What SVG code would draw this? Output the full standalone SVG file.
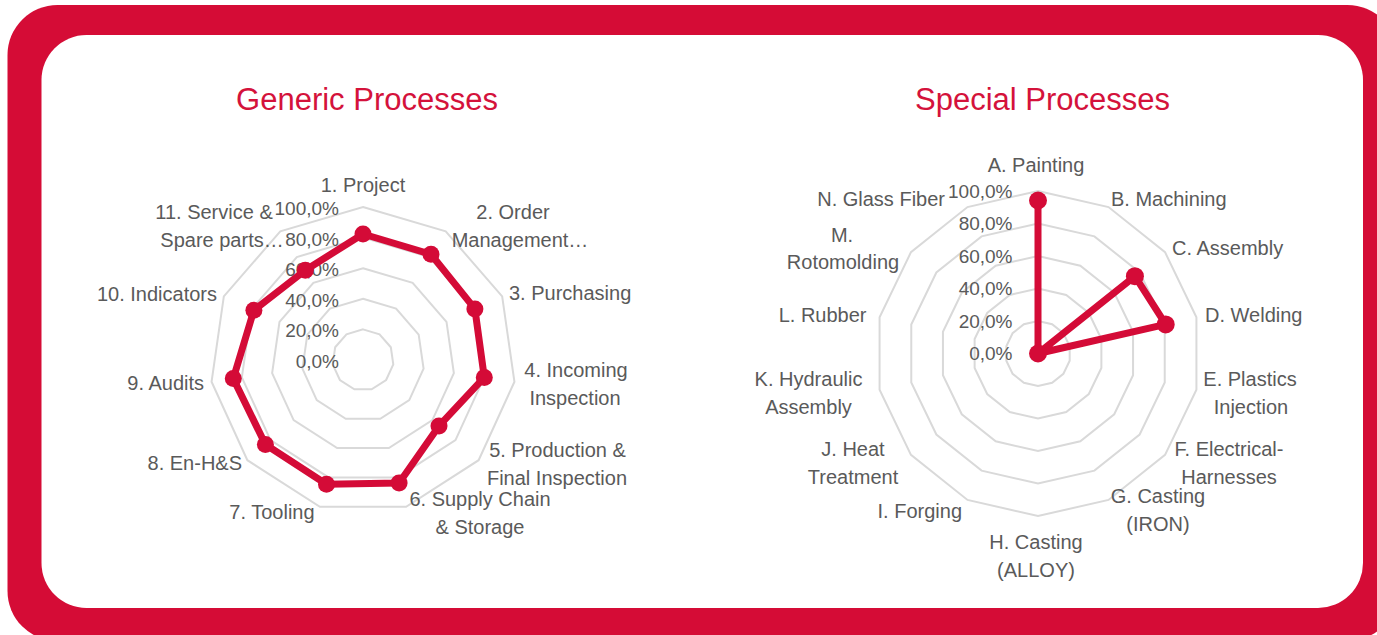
<svg xmlns="http://www.w3.org/2000/svg" xmlns:xlink="http://www.w3.org/1999/xlink" width="1377" height="635" viewBox="0 0 1377 635">
  <style>
    .title { font-family: "Liberation Sans", Arial, sans-serif; font-size: 31px; fill: #d4123b; text-anchor: middle; }
    .lbl { font-family: "Liberation Sans", Arial, sans-serif; font-size: 20px; fill: #5a5a5a; }
    .val { font-family: "Liberation Sans", Arial, sans-serif; font-size: 19px; fill: #5a5a5a; text-anchor: end; }
    .m { text-anchor: middle; }
    .s { text-anchor: start; }
    .e { text-anchor: end; }
    .ring { fill: none; stroke: #d9d9d9; stroke-width: 2; }
    .series { fill: none; stroke: #d40b37; stroke-width: 7; stroke-linejoin: round; stroke-linecap: round; }
    .dot { fill: #d40b37; }
  </style>
  <defs>
    <polygon id="g11" vector-effect="non-scaling-stroke" points="0,-1 0.5406,-0.8413 0.9096,-0.4154 0.9898,0.1423 0.7557,0.6549 0.2817,0.9595 -0.2817,0.9595 -0.7557,0.6549 -0.9898,0.1423 -0.9096,-0.4154 -0.5406,-0.8413"/>
    <polygon id="g14" vector-effect="non-scaling-stroke" points="0,-1 0.4339,-0.901 0.7818,-0.6235 0.9749,-0.2225 0.9749,0.2225 0.7818,0.6235 0.4339,0.901 0,1 -0.4339,0.901 -0.7818,0.6235 -0.9749,0.2225 -0.9749,-0.2225 -0.7818,-0.6235 -0.4339,-0.901"/>
  </defs>

  <rect width="1377" height="635" fill="#ffffff"/>
  <g id="frame">
    <rect x="7.5" y="5" width="1390" height="636" rx="50" fill="#d50c36"/>
    <rect x="41.5" y="35" width="1321.5" height="573" rx="45" fill="#ffffff"/>
  </g>

  <g id="generic-chart">
    <text class="title" x="367" y="110">Generic Processes</text>
    <g id="generic-grid" class="ring">
      <use xlink:href="#g11" href="#g11" transform="translate(363 360) scale(30.6)"/>
      <use xlink:href="#g11" href="#g11" transform="translate(363 360) scale(61.2)"/>
      <use xlink:href="#g11" href="#g11" transform="translate(363 360) scale(91.8)"/>
      <use xlink:href="#g11" href="#g11" transform="translate(363 360) scale(122.4)"/>
      <use xlink:href="#g11" href="#g11" transform="translate(363 360) scale(153)"/>
    </g>
    <g id="generic-axis">
      <text class="val" x="339" y="215">100,0%</text>
      <text class="val" x="339" y="245.6">80,0%</text>
      <text class="val" x="339" y="276.2">60,0%</text>
      <text class="val" x="339" y="306.8">40,0%</text>
      <text class="val" x="339" y="337.4">20,0%</text>
      <text class="val" x="339" y="368">0,0%</text>
    </g>
    <g id="generic-labels" class="lbl">
      <text class="m" x="363" y="192">1. Project</text>
      <text class="m" x="513" y="219">2. Order</text>
      <text class="m" x="520" y="247">Management…</text>
      <text class="s" x="509" y="300">3. Purchasing</text>
      <text class="m" x="576" y="377">4. Incoming</text>
      <text class="m" x="575" y="405">Inspection</text>
      <text class="m" x="557.5" y="457">5. Production &amp;</text>
      <text class="m" x="557" y="485">Final Inspection</text>
      <text class="m" x="480" y="506">6. Supply Chain</text>
      <text class="m" x="480" y="534">&amp; Storage</text>
      <text class="m" x="272" y="519">7. Tooling</text>
      <text class="e" x="242" y="470">8. En-H&amp;S</text>
      <text class="e" x="204" y="390">9. Audits</text>
      <text class="e" x="217" y="301">10. Indicators</text>
      <text class="m" x="214" y="219">11. Service &amp;</text>
      <text class="m" x="222" y="247">Spare parts…</text>
    </g>
    <g id="generic-series">
      <polygon class="series" points="363,234 431,254.3 474.9,308.9 484.3,377.4 439,425.9 399.1,483.1 326.5,484.3 265.4,444.5 233.3,378.6 253.9,310.2 305.3,270.2"/>
      <g class="dot">
        <circle cx="363" cy="234" r="8.5"/>
        <circle cx="431" cy="254.3" r="8.5"/>
        <circle cx="474.9" cy="308.9" r="8.5"/>
        <circle cx="484.3" cy="377.4" r="8.5"/>
        <circle cx="439" cy="425.9" r="8.5"/>
        <circle cx="399.1" cy="483.1" r="8.5"/>
        <circle cx="326.5" cy="484.3" r="8.5"/>
        <circle cx="265.4" cy="444.5" r="8.5"/>
        <circle cx="233.3" cy="378.6" r="8.5"/>
        <circle cx="253.9" cy="310.2" r="8.5"/>
        <circle cx="305.3" cy="270.2" r="8.5"/>
      </g>
    </g>
  </g>

  <g id="special-chart">
    <text class="title" x="1042.5" y="110">Special Processes</text>
    <g id="special-grid" class="ring">
      <use xlink:href="#g14" href="#g14" transform="translate(1038 353.5) scale(32.5)"/>
      <use xlink:href="#g14" href="#g14" transform="translate(1038 353.5) scale(65)"/>
      <use xlink:href="#g14" href="#g14" transform="translate(1038 353.5) scale(97.5)"/>
      <use xlink:href="#g14" href="#g14" transform="translate(1038 353.5) scale(130)"/>
      <use xlink:href="#g14" href="#g14" transform="translate(1038 353.5) scale(162.5)"/>
    </g>
    <g id="special-labels" class="lbl">
      <text class="m" x="1036" y="172">A. Painting</text>
      <text class="s" x="1111" y="205.5">B. Machining</text>
      <text class="s" x="1172" y="255">C. Assembly</text>
      <text class="s" x="1205" y="322">D. Welding</text>
      <text class="m" x="1250" y="386">E. Plastics</text>
      <text class="m" x="1251" y="414">Injection</text>
      <text class="m" x="1229" y="455.5">F. Electrical-</text>
      <text class="m" x="1229" y="484">Harnesses</text>
      <text class="m" x="1158" y="503">G. Casting</text>
      <text class="m" x="1158" y="531">(IRON)</text>
      <text class="m" x="1036" y="549">H. Casting</text>
      <text class="m" x="1036" y="577">(ALLOY)</text>
      <text class="e" x="962" y="517.5">I. Forging</text>
      <text class="m" x="853" y="455.5">J. Heat</text>
      <text class="m" x="853" y="484">Treatment</text>
      <text class="m" x="808.5" y="385.5">K. Hydraulic</text>
      <text class="m" x="808.5" y="414">Assembly</text>
      <text class="e" x="866.5" y="321.5">L. Rubber</text>
      <text class="m" x="842" y="242">M.</text>
      <text class="m" x="843" y="268.5">Rotomolding</text>
      <text class="e" x="945" y="205.5">N. Glass Fiber</text>
    </g>
    <g id="special-axis">
      <text class="val" x="1012.5" y="198">100,0%</text>
      <text class="val" x="1012.5" y="230.4">80,0%</text>
      <text class="val" x="1012.5" y="262.8">60,0%</text>
      <text class="val" x="1012.5" y="295.2">40,0%</text>
      <text class="val" x="1012.5" y="327.6">20,0%</text>
      <text class="val" x="1012.5" y="360">0,0%</text>
    </g>
    <g id="special-series">
      <polygon class="series" points="1038,200.5 1038,353.5 1134.9,276.2 1165.7,324.4 1038,353.5"/>
      <g class="dot">
        <circle cx="1038" cy="200.5" r="9"/>
        <circle cx="1038" cy="353.5" r="9"/>
        <circle cx="1134.9" cy="276.2" r="9"/>
        <circle cx="1165.7" cy="324.4" r="9"/>
      </g>
    </g>
  </g>
</svg>
